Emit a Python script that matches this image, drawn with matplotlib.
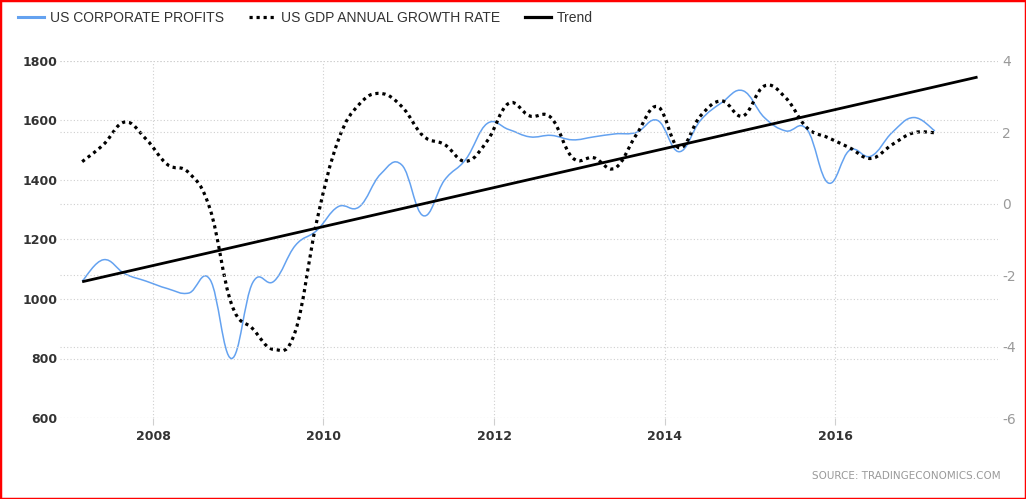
import matplotlib
matplotlib.use("Agg")
from matplotlib import pyplot as plt
from matplotlib.path import Path
from matplotlib.patches import PathPatch, Rectangle
from matplotlib.lines import Line2D
import numpy as np

plt.rcParams["axes.unicode_minus"] = False

# quarterly observations, 2007 Q1 .. 2017 Q1 (fractional years)
dates = 2007.17 + 0.25 * np.arange(41)

profits = [1060, 1132, 1085, 1060, 1035, 1020, 1065, 800, 1055, 1060,
           1180, 1230, 1310, 1310, 1420, 1450, 1280, 1400, 1470, 1590,
           1570, 1545, 1550, 1535, 1545, 1555, 1560, 1600, 1495, 1600,
           1660, 1700, 1610, 1565, 1570, 1390, 1500, 1480, 1560, 1610,
           1565]

gdp_growth = [1.18, 1.66, 2.29, 1.81, 1.10, 0.87, -0.15, -2.80, -3.50, -4.08,
              -3.57, -0.50, 1.76, 2.79, 3.09, 2.72, 1.90, 1.66, 1.19, 1.76,
              2.81, 2.46, 2.41, 1.29, 1.29, 1.00, 1.94, 2.72, 1.57, 2.46,
              2.88, 2.46, 3.30, 2.97, 2.13, 1.85, 1.57, 1.27, 1.66, 1.99,
              1.99]

trend_x = [2007.17, 2017.67]
trend_y = [1058, 1746]

left_ticks = [600, 800, 1000, 1200, 1400, 1600, 1800]
right_ticks = [-6, -4, -2, 0, 2, 4]
year_ticks = [2008, 2010, 2012, 2014, 2016]

names = ["US CORPORATE PROFITS", "US GDP ANNUAL GROWTH RATE", "Trend"]
blue = "#64a2f0"
grid_col = "#cfcfcf"


def spline_path(xs, ys, k=0.2):
    # bezier segments through every point, like a charting spline
    n = len(xs)
    verts = [(xs[0], ys[0])]
    codes = [Path.MOVETO]
    for i in range(n - 1):
        x0, y0 = xs[max(i - 1, 0)], ys[max(i - 1, 0)]
        x1, y1 = xs[i], ys[i]
        x2, y2 = xs[i + 1], ys[i + 1]
        x3, y3 = xs[min(i + 2, n - 1)], ys[min(i + 2, n - 1)]
        verts += [(x1 + (x2 - x0) * k, y1 + (y2 - y0) * k),
                  (x2 - (x3 - x1) * k, y2 - (y3 - y1) * k),
                  (x2, y2)]
        codes += [Path.CURVE4] * 3
    return Path(verts, codes)


fig = plt.figure(figsize=(10.26, 4.99), dpi=100)
ax = fig.add_axes([60 / 1026, 1 - 418 / 499, 938 / 1026, 357 / 499])
ax2 = ax.twinx()

ax.set_xlim(2006.91, 2017.91)
ax.set_ylim(600, 1800)
ax2.set_ylim(-6, 4)

for a in (ax, ax2):
    for s in a.spines.values():
        s.set_visible(False)
    a.grid(True, axis="y", color=grid_col, linestyle=(0, (1, 2)), linewidth=0.8)
ax.grid(True, axis="x", color=grid_col, linestyle=(0, (1, 2)), linewidth=0.8)
ax.set_axisbelow(True)

ax.set_yticks(left_ticks)
ax.set_xticks(year_ticks, labels=[str(y) for y in year_ticks])
ax2.set_yticks(right_ticks)
ax.tick_params(axis="y", length=0, pad=2, labelsize=9, labelcolor="#333333")
ax.tick_params(axis="x", length=5, color=grid_col, pad=4, labelsize=9, labelcolor="#333333")
for lab in ax.get_xticklabels() + ax.get_yticklabels():
    lab.set_fontweight("bold")
ax2.tick_params(axis="y", length=0, pad=3, labelsize=10, labelcolor="#9a9a9a")

# series
ax.add_patch(PathPatch(spline_path(dates, profits), fill=False,
                       edgecolor=blue, linewidth=1.1))
ax2.add_patch(PathPatch(spline_path(dates, gdp_growth), fill=False,
                        edgecolor="black", linewidth=2.3,
                        linestyle=(0, (1, 1.2)), capstyle="butt"))
ax2.plot(trend_x, trend_y, color="black", linewidth=2.0,
         transform=ax.transData, solid_capstyle="butt")

handles = [Line2D([], [], color=blue, linewidth=2.2),
           Line2D([], [], color="black", linewidth=2.3, linestyle=(0, (1, 1.2))),
           Line2D([], [], color="black", linewidth=2.3)]
leg = fig.legend(handles, names, loc="center left",
                 bbox_to_anchor=(18 / 1026, 1 - 18 / 499), ncol=3,
                 frameon=False, borderaxespad=0, borderpad=0,
                 handlelength=1.9, handletextpad=0.4, columnspacing=1.8,
                 prop={"family": "Liberation Sans", "size": 10})
for t in leg.get_texts():
    t.set_color("#333333")

fig.text(1001 / 1026, 1 - 476 / 499, "SOURCE: TRADINGECONOMICS.COM",
         ha="right", va="center", fontsize=7.5, color="#9a9a9a")

fig.add_artist(Rectangle((0, 0), 1, 1, transform=fig.transFigure,
                         fill=False, edgecolor="red", linewidth=2.5))

fig.savefig("out.png", dpi=100)
